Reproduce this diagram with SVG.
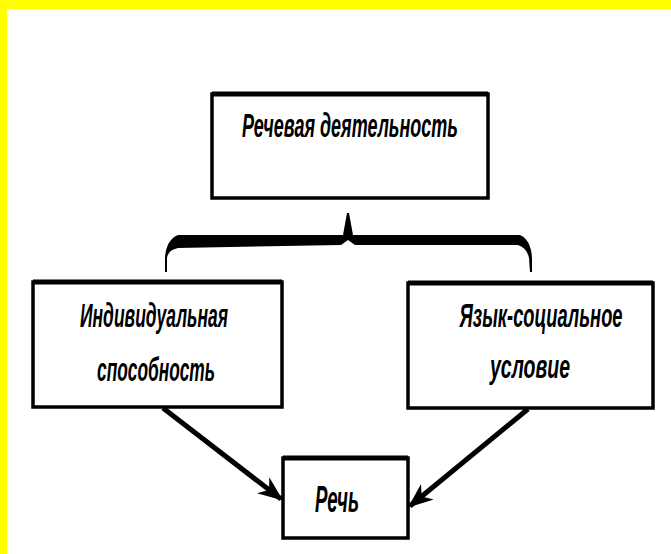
<svg xmlns="http://www.w3.org/2000/svg" width="671" height="554" viewBox="0 0 671 554">
<style>
.box{fill:#fff;stroke:#000;stroke-width:3.5}
.t{font-family:"Liberation Sans",Arial,sans-serif;font-style:italic;font-weight:bold;font-size:20px;fill:#000;text-anchor:middle}
.conn{stroke:#000;stroke-width:5;fill:none}
</style>
<defs>
<marker id="ah" viewBox="0 0 10 10" refX="9" refY="5" markerWidth="5" markerHeight="5" markerUnits="strokeWidth" orient="auto">
<path d="M0,1 L10,5 L0,9 L3,5 Z" fill="#000"/>
</marker>
</defs>
<rect x="0" y="0" width="671" height="554" fill="#fff"/>
<rect x="0" y="0" width="671" height="9" fill="#ff0"/>
<rect x="0" y="0" width="7" height="554" fill="#ff0"/>
<g id="connectors">
<path d="M165,272 L165,258 Q166,240 178,235 L343,235 L347,213 L349,213 L353,235 L520,235 Q531,240 532,258 L532,272 L530,272 L529,258 Q527,248 518,245 L355,245 L348,240 L341,245 L178,248 Q168,250 167,258 L167,272 Z" fill="#000"/>
<line class="conn" x1="163" y1="408" x2="281" y2="499" marker-end="url(#ah)"/>
<line class="conn" x1="528" y1="409" x2="410" y2="506" marker-end="url(#ah)"/>
</g>
<g id="node-activity">
<rect class="box" x="212" y="94" width="276" height="104"/>
<line x1="212" y1="94" x2="488" y2="94" stroke="#000" stroke-width="5"/>
<text class="t" transform="translate(350,137) scale(1,1.7)" textLength="216" lengthAdjust="spacingAndGlyphs">Речевая деятельность</text>
</g>
<g id="node-ability">
<rect class="box" x="33" y="282" width="249" height="125"/>
<line x1="33" y1="282" x2="282" y2="282" stroke="#000" stroke-width="5"/>
<text class="t" transform="translate(154,327) scale(1,1.7)" textLength="148" lengthAdjust="spacingAndGlyphs">Индивидуальная</text>
<text class="t" transform="translate(156,381) scale(1,1.7)" textLength="118" lengthAdjust="spacingAndGlyphs">способность</text>
</g>
<g id="node-language">
<rect class="box" x="408" y="283" width="245" height="125"/>
<line x1="408" y1="283" x2="653" y2="283" stroke="#000" stroke-width="5"/>
<text class="t" transform="translate(541,327) scale(1,1.7)" textLength="163" lengthAdjust="spacingAndGlyphs">Язык-социальное</text>
<text class="t" transform="translate(530,378) scale(1,1.7)" textLength="80" lengthAdjust="spacingAndGlyphs">условие</text>
</g>
<g id="node-speech">
<rect class="box" x="283" y="458" width="125" height="80"/>
<line x1="283" y1="458" x2="408" y2="458" stroke="#000" stroke-width="5"/>
<text class="t" transform="translate(337,512) scale(1,1.85)" textLength="44" lengthAdjust="spacingAndGlyphs">Речь</text>
</g>
</svg>
